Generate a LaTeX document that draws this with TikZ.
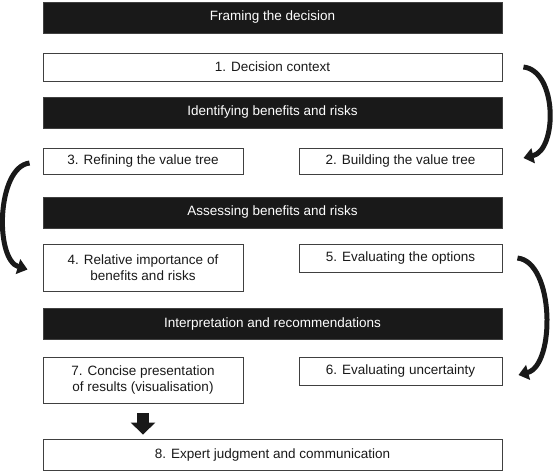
\documentclass[tikz,border=0pt]{standalone}
\usepackage{fontspec}
\setmainfont{Liberation Sans}
\usetikzlibrary{arrows.meta}

\begin{document}
\begin{tikzpicture}[x=1pt, y=-1pt,
    font=\fontsize{13.5}{15.5}\selectfont,
    stage/.style={draw=black!75, fill=black!90, text=white, minimum width=459pt, minimum height=31pt, inner sep=0pt},
    task/.style={draw=black!75, line width=0.9pt, text=black!90, align=center, inner sep=0pt},
    wide/.style={task, minimum width=459pt},
    half/.style={task, minimum width=200pt},
    halfr/.style={task, minimum width=203pt},
    loop/.style={line width=5pt, black!90, -{Triangle[length=10pt, width=15pt]}},
    push/.style={line width=12pt, black!90, -{Triangle[length=12pt, width=24pt]}}]
    \useasboundingbox (0,0) rectangle (553,472);

    % Stage bars
    \node[stage] (S1) at (272.5,17.5) {Framing the decision};
    \node[stage] (S2) at (272.5,112.5) {Identifying benefits and risks};
    \node[stage] (S3) at (272.5,212.5) {Assessing benefits and risks};
    \node[stage] (S4) at (272.5,323.5) {Interpretation and recommendations};

    % Steps
    \node[wide, minimum height=28pt] (B1) at (272.5,67) {1. Decision context};
    \node[halfr, minimum height=26pt] (B2) at (400.5,161) {2. Building the value tree};
    \node[half, minimum height=26pt] (B3) at (143,161) {3. Refining the value tree};
    \node[half, minimum height=47pt] (B4) at (143,267.5) {4. Relative importance of\\benefits and risks};
    \node[halfr, minimum height=28pt] (B5) at (400.5,258) {5. Evaluating the options};
    \node[halfr, minimum height=28pt] (B6) at (400.5,371) {6. Evaluating uncertainty};
    \node[half, minimum height=46pt] (B7) at (143,380) {7. Concise presentation\\of results (visualisation)};
    \node[wide, minimum height=31pt] (B8) at (272.5,454.5) {8. Expert judgment and communication};

    % Flow between steps
    \draw[loop] ([xshift=21pt]B1.east) .. controls +(34,4) and +(34,-8) .. ([xshift=21pt,yshift=3pt]B2.east);
    \draw[loop] ([xshift=-13pt,yshift=-2pt]B3.west) .. controls +(-33,4) and +(-33,-10) .. ([xshift=-15pt,yshift=-2pt]B4.west);
    \draw[loop] ([xshift=15pt]B5.east) .. controls +(37,4) and +(37,-10) .. ([xshift=16pt,yshift=-4pt]B6.east);
    \draw[push] ([yshift=-10pt]B7.south) -- ([yshift=4pt]B7.south |- B8.north);

\end{tikzpicture}
\end{document}
